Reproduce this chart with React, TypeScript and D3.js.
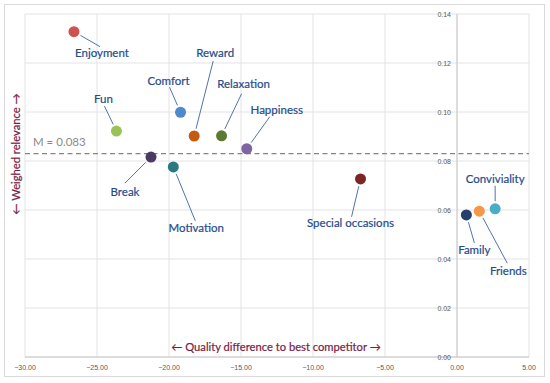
import React from 'react';
import * as d3 from 'd3';

// values
const names = ['Enjoyment', 'Fun', 'Comfort', 'Reward', 'Relaxation', 'Happiness', 'Break', 'Motivation', 'Special occasions', 'Family', 'Friends', 'Conviviality'];
const qualityDiff = [-26.6, -23.65, -19.2, -18.25, -16.35, -14.6, -21.25, -19.7, -6.7, 0.65, 1.55, 2.65];
const relevance = [0.1328, 0.0922, 0.0999, 0.0902, 0.0903, 0.085, 0.0816, 0.0776, 0.0727, 0.058, 0.0595, 0.0605];
const meanRelevance = 0.083;
const xTicks = [-30, -25, -20, -15, -10, -5, 0, 5];
const yTicks = [0, 0.02, 0.04, 0.06, 0.08, 0.1, 0.12, 0.14];

const pointColors = ['#cd5250', '#9bc257', '#4f88cc', '#c55a11', '#5b7a2f', '#8064a2', '#4b3a62', '#2b7980', '#7b2625', '#263f6b', '#f79646', '#4bacc6'];
// label placement: text centre and leader end, in px relative to the point
const labelPos = [
  [28, 21, 26, 15], [-13, -33, -12, -25], [-12, -32, -11, -25], [21, -84, 19, -75],
  [22, -52, 20, -42], [30, -39, 23, -32], [-26, 34, -26, 26], [23, 61, 22, 54],
  [-10, 44, -9, 38], [8, 35, 8, 28], [29, 59, 28, 52], [0, -30, 0, -23],
];

const W = 550;
const H = 383;
const margin = { top: 14, right: 21, bottom: 26, left: 25 };

const App = () => {
  const x = d3.scaleLinear().domain([-30, 5]).range([margin.left, W - margin.right]);
  const y = d3.scaleLinear().domain([0, 0.14]).range([H - margin.bottom, margin.top]);
  const fmtX = d3.format('.2f');
  const fmtY = d3.format('.2f');
  const font = 'Lato, "Liberation Sans", sans-serif';
  const labelColor = '#1f4c8c';

  return (
    <div>
      <style>{'body{margin:0}'}</style>
      <svg width={W} height={H} style={{ display: 'block', fontFamily: font }}>
        <rect x={0} y={0} width={W} height={H} fill="#fff" />
        <rect x={4.5} y={4.5} width={540} height={372} fill="none" stroke="#d9d9d9" />

        {/* gridlines */}
        {xTicks.map(t => (
          <line key={'gx' + t} x1={x(t)} x2={x(t)} y1={y(0)} y2={y(0.14)} stroke="#e3e3e3" />
        ))}
        {yTicks.map(t => (
          <line key={'gy' + t} x1={x(-30)} x2={x(5)} y1={y(t)} y2={y(t)} stroke="#e3e3e3" />
        ))}

        {/* axes through the origin */}
        <line x1={x(0)} x2={x(0)} y1={y(0)} y2={y(0.14)} stroke="#c8c8c8" />
        <line x1={x(-30)} x2={x(5)} y1={y(0)} y2={y(0)} stroke="#c8c8c8" />

        {yTicks.map(t => (
          <text key={'ty' + t} x={x(0) - 6} y={y(t)} textAnchor="end" dominantBaseline="central"
            fontSize={7} fill="#595959" fontFamily='"Liberation Sans", sans-serif'>{fmtY(t)}</text>
        ))}
        {xTicks.map(t => (
          <text key={'tx' + t} x={x(t)} y={y(0) + 10} textAnchor="middle" dominantBaseline="central"
            fontSize={7} fill="#595959" fontFamily='"Liberation Sans", sans-serif'>{fmtX(t)}</text>
        ))}

        {/* mean line */}
        <line x1={x(-30)} x2={x(5)} y1={y(meanRelevance)} y2={y(meanRelevance)}
          stroke="#858585" strokeWidth={1.3} strokeDasharray="5,3.5" />
        <text x={33} y={y(meanRelevance) - 12} dominantBaseline="central" fontSize={11.5} fill="#8a8a8a">
          M = {meanRelevance}
        </text>

        {/* leader lines */}
        {names.map((n, i) => {
          const px = x(qualityDiff[i]);
          const py = y(relevance[i]);
          const [, , ex, ey] = labelPos[i];
          const len = Math.hypot(ex, ey);
          const sx = px + (ex / len) * 7.5;
          const sy = py + (ey / len) * 7.5;
          return <line key={'l' + n} x1={sx} y1={sy} x2={px + ex} y2={py + ey} stroke="#3d64a0" strokeWidth={0.9} />;
        })}

        {/* points */}
        {names.map((n, i) => (
          <circle key={'c' + n} cx={x(qualityDiff[i])} cy={y(relevance[i])} r={5.5} fill={pointColors[i]} />
        ))}

        {/* labels */}
        {names.map((n, i) => (
          <text key={'t' + n} x={x(qualityDiff[i]) + labelPos[i][0]} y={y(relevance[i]) + labelPos[i][1]}
            textAnchor="middle" dominantBaseline="central" fontSize={11.5} fill={labelColor}
            stroke={labelColor} strokeWidth={0.2}>{n}</text>
        ))}

        {/* axis titles */}
        <text x={276} y={346} textAnchor="middle" dominantBaseline="central" fontSize={11.2} fill="#7a1c44"
          stroke="#7a1c44" strokeWidth={0.2}>
          ← Quality difference to best competitor →
        </text>
        <text transform="translate(15,154) rotate(-90)" textAnchor="middle" dominantBaseline="central"
          fontSize={11.2} fill="#7a1c44" stroke="#7a1c44" strokeWidth={0.2}>
          ← Weighed relevance →
        </text>
      </svg>
    </div>
  );
};

export default App;
